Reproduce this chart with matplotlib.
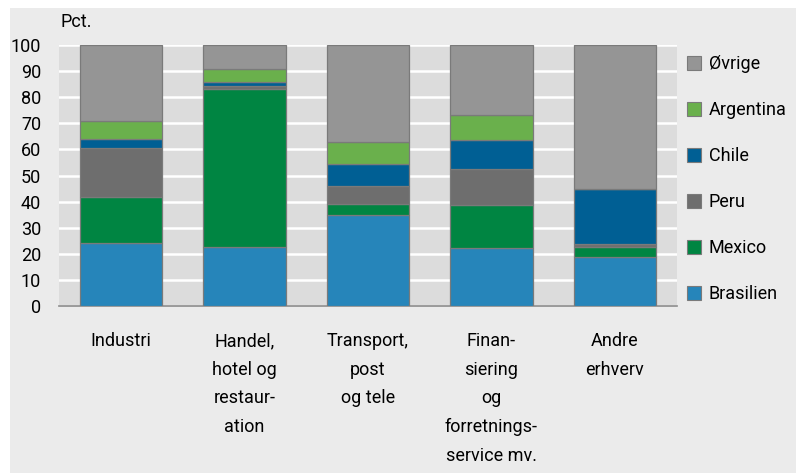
import matplotlib
matplotlib.use("Agg")
import matplotlib.pyplot as plt
from matplotlib.patches import Rectangle, Patch
import numpy as np

categories = ["Industri", "Handel,\nhotel og\nrestaur-\nation", "Transport,\npost\nog tele",
              "Finan-\nsiering\nog\nforretnings-\nservice mv.", "Andre\nerhverv"]
brasilien = [24.3, 22.5, 34.9, 22.2, 18.7]
mexico    = [17.6, 60.7, 4.0, 16.5, 3.8]
peru      = [18.6, 0.9, 7.1, 13.8, 1.3]
chile     = [3.4, 1.8, 8.3, 11.0, 21.0]
argentina = [7.1, 5.0, 8.7, 9.6, 0.0]
ovrige    = [29.0, 9.1, 37.0, 26.9, 55.2]
series_names = ["Brasilien", "Mexico", "Peru", "Chile", "Argentina", "Øvrige"]
yticks = [0, 10, 20, 30, 40, 50, 60, 70, 80, 90, 100]

colors = ["#2685ba", "#008542", "#6e6e6e", "#005f94", "#6ab04c", "#959595"]

plt.rcParams['font.family'] = ['Roboto', 'DejaVu Sans']
fs = 13

fig = plt.figure(figsize=(8.01, 4.73), dpi=100)
fig.patch.set_facecolor("white")
fig.patches.append(Rectangle((10/801, 0), (796-10)/801, 1 - 8/473, transform=fig.transFigure,
                             facecolor="#ebebeb", edgecolor="none", zorder=-10))

ax = fig.add_axes([59.3/801, 1 - 306/473, (676.7-59.3)/801, (306-45)/473])
ax.set_facecolor("#dcdcdc")

data = [brasilien, mexico, peru, chile, argentina, ovrige]
x = np.arange(len(categories))
bottom = np.zeros(len(categories))
handles = []
for name, vals, c in zip(series_names, data, colors):
    vals = np.array(vals)
    ax.bar(x, vals, width=0.667, bottom=bottom, color=c, edgecolor="#7a7a7a",
           linewidth=0.9, zorder=3)
    bottom += vals
    handles.append(Patch(facecolor=c, edgecolor="#7a7a7a", linewidth=0.8, label=name))

ax.set_xlim(-0.5, 4.5)
ax.set_ylim(0, 100)
ax.set_yticks(yticks)
ax.set_yticklabels([str(v) for v in yticks], fontsize=fs)
ax.set_xticks(x)
ax.set_xticklabels(categories, fontsize=fs, linespacing=1.75, va="top")
ax.tick_params(axis="both", length=0)
ax.tick_params(axis="y", pad=13)
ax.tick_params(axis="x", pad=19)
ax.grid(axis="y", color="white", linewidth=1.8, zorder=1)
ax.set_axisbelow(True)
for s in ["top", "right", "left"]:
    ax.spines[s].set_visible(False)
ax.spines["bottom"].set_color("#8c8c8c")
ax.spines["bottom"].set_linewidth(1.2)

fig.text(60/801, 1 - 22/473, "Pct.", fontsize=fs, ha="left", va="center")

leg = ax.legend(handles=handles[::-1], loc="upper left", bbox_to_anchor=(1.005, 0.988),
                frameon=False, fontsize=fs, labelspacing=1.55, handlelength=0.8,
                handleheight=0.8, handletextpad=0.4, borderaxespad=0)

fig.savefig("out.png", dpi=100, facecolor=fig.get_facecolor())
